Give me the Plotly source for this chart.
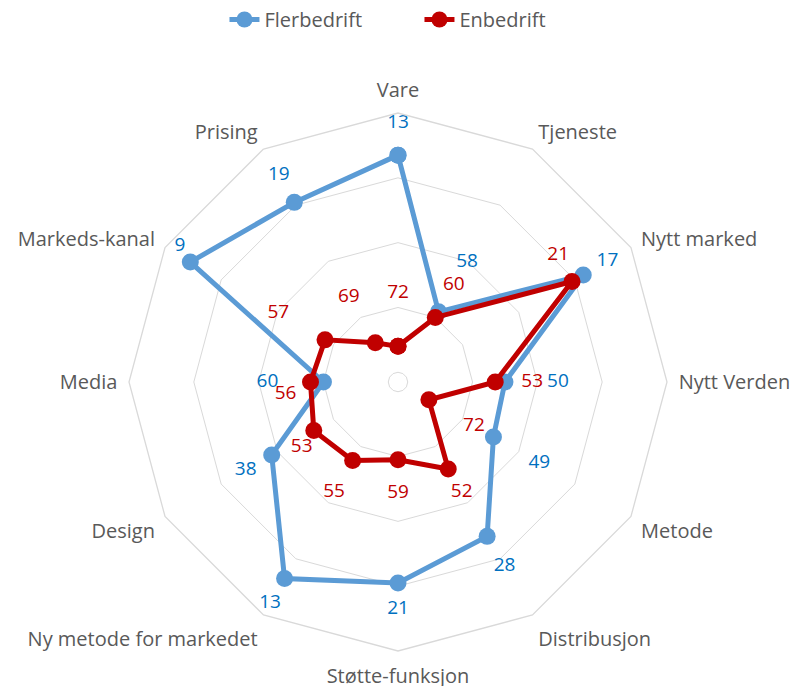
import plotly.graph_objects as go

categories = ["Vare", "Tjeneste", "Nytt marked", "Nytt Verden", "Metode", "Distribusjon",
              "Støtte-funksjon", "Ny metode for markedet", "Design", "Media", "Markeds-kanal", "Prising"]
flerbedrift = [13, 58, 17, 50, 49, 28, 21, 13, 38, 60, 9, 19]
enbedrift = [72, 60, 21, 53, 72, 52, 59, 55, 53, 56, 57, 69]
radial_ticks = [0, 20, 40, 60, 80]

# geometry / style
R_MAX = 83          # value at the centre (axis reversed, outer ring = 0)
R_PX = 269          # outer ring radius in pixels
PX_PER = R_PX / R_MAX

# data-label placement (style): radial offset outward in pixels + text anchor
fler_off = [32, 57, 28, 53, 53, 35, 26, 29, 30, 56, 12, 31]
fler_pos = ["middle center"] * 10 + ["top center", "middle center"]
en_off = [53, 37, -16, 37, 52, 27, 33, 37, 14, 14, 54, 53]
en_pos = ["middle center", "middle center", "top center", "middle center", "middle center",
          "middle center", "middle center", "middle center", "bottom center", "middle left",
          "middle center", "middle center"]
en_lift = [False, False, True] + [False] * 9
en_drop = [False] * 9 + [True, False, False]

BLUE = "#5B9BD5"
RED = "#C00000"
GREY_TXT = "#595959"
FONT = "Open Sans"
LBL = 19


def shifted(vals, offs):
    return [v - o / PX_PER for v, o in zip(vals, offs)]


fig = go.Figure()
for name, vals, col in [("Flerbedrift", flerbedrift, BLUE), ("Enbedrift", enbedrift, RED)]:
    fig.add_trace(go.Scatterpolar(
        r=vals + [vals[0]], theta=categories + [categories[0]],
        mode="lines+markers", name=name,
        line=dict(color=col, width=5), marker=dict(color=col, size=17),
        cliponaxis=False,
    ))

fig.add_trace(go.Scatterpolar(
    r=shifted(flerbedrift, fler_off), theta=categories,
    mode="text", showlegend=False, hoverinfo="skip",
    text=[str(v) for v in flerbedrift], textposition=fler_pos,
    textfont=dict(color="#0070C0", size=LBL, family=FONT), cliponaxis=False,
))
fig.add_trace(go.Scatterpolar(
    r=shifted(enbedrift, en_off), theta=categories,
    mode="text", showlegend=False, hoverinfo="skip",
    text=[("\u00a0<br>" if drop else "") + str(v) + ("<br>\u00a0" if lift else "")
          for v, lift, drop in zip(enbedrift, en_lift, en_drop)],
    textposition=en_pos,
    textfont=dict(color=RED, size=LBL, family=FONT), cliponaxis=False,
))

fig.update_layout(
    width=796, height=686,
    paper_bgcolor="white", plot_bgcolor="white",
    margin=dict(l=0, r=0, t=0, b=0),
    font=dict(family=FONT, color=GREY_TXT, size=20),
    showlegend=True,
    legend=dict(orientation="h", x=0.282, xanchor="left", y=1.0, yanchor="top",
                entrywidth=150, entrywidthmode="pixels",
                font=dict(size=20, color=GREY_TXT, family=FONT)),
    polar=dict(
        domain=dict(x=[(398 - R_PX) / 796, (398 + R_PX) / 796],
                    y=[(304 - R_PX) / 686, (304 + R_PX) / 686]),
        bgcolor="white",
        gridshape="linear",
        radialaxis=dict(range=[R_MAX, 0], tickvals=radial_ticks, showticklabels=False, ticks="",
                        showline=False, gridcolor="#D9D9D9", gridwidth=1.3),
        angularaxis=dict(rotation=90, direction="clockwise", showgrid=False,
                         showline=True, linecolor="#D9D9D9", linewidth=1.3,
                         ticks="outside", ticklen=7, tickcolor="rgba(0,0,0,0)",
                         tickfont=dict(size=20, color=GREY_TXT, family=FONT)),
    ),
)
fig.write_html("out.html", config={"displayModeBar": False},
               post_script="document.body.style.margin='0';")
